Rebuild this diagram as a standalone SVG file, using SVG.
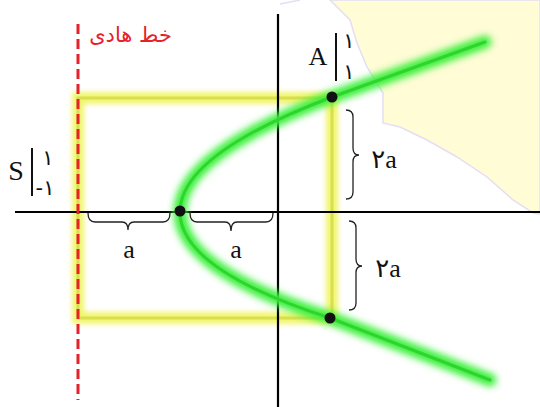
<svg xmlns="http://www.w3.org/2000/svg" width="540" height="407" viewBox="0 0 540 407">
<defs>
<filter id="blurG" x="-20%" y="-20%" width="140%" height="140%"><feGaussianBlur stdDeviation="3.5"/></filter>
<filter id="blurY" x="-10%" y="-10%" width="120%" height="120%"><feGaussianBlur stdDeviation="2.5"/></filter>
<style>
.axis{stroke:#000;stroke-width:2.2;fill:none}
.brace{stroke:#222;stroke-width:1.3;fill:none}
.lbl{font-family:"Liberation Serif","DejaVu Serif","DejaVu Sans",serif;font-size:26px;fill:#111}
.dig{font-family:"DejaVu Sans","Liberation Serif",serif;font-size:21px;fill:#111}
.dot{fill:#111}
</style>
</defs>
<rect width="540" height="407" fill="#fff"/>
<g id="background">
<path d="M330,0 L350,20 L357,43 L367,67 L383,93 L383,123 L400,127 L427,140 L457,157 L487,177 L513,200 L533,213 L540,214 L540,0 Z" fill="#fffcd6" stroke="#e4def6" stroke-width="1.5"/>
<path d="M280,4 L300,0" stroke="#e4def6" stroke-width="1.5" fill="none"/>
</g>
<g id="rectangle">
<path d="M78,98 H332 V318 H78 Z" fill="none" stroke="#eef34a" stroke-width="12" filter="url(#blurY)" opacity="0.8"/>
<path d="M78,98 H332 V318 H78 Z" fill="none" stroke="#dadf50" stroke-width="3"/>
</g>
<g id="axes">
<line class="axis" x1="15" y1="212" x2="540" y2="212"/>
<line class="axis" x1="278" y1="14" x2="278" y2="407"/>
</g>
<g id="parabola">
<path d="M485,42 L332,97 Q180,154.5 180,212 Q180,269.5 330,318 L490,380" fill="none" stroke="#3af03a" stroke-width="13" stroke-linecap="round" filter="url(#blurG)"/>
<path d="M485,42 L332,97 Q180,154.5 180,212 Q180,269.5 330,318 L490,380" fill="none" stroke="#2fd42f" stroke-width="3" stroke-linecap="round"/>
</g>
<g id="directrix">
<line x1="78" y1="24" x2="78" y2="400" stroke="#e8202a" stroke-width="3" stroke-dasharray="10,5"/>
<text x="172" y="42" text-anchor="end" font-family="DejaVu Sans, sans-serif" font-size="21" fill="#e8202a">خط هادی</text>
</g>
<g id="connectors">
<path class="brace" d="M88,213 Q88,222 95,222 H122 Q128,222 128,230 Q128,222 134,222 H163 Q170,222 170,213"/>
<path class="brace" d="M190,213 Q190,222 197,222 H225 Q231,222 231,231 Q231,222 237,222 H266 Q273,222 273,213"/>
<path class="brace" d="M346,110 Q353,110 353,117 V148 Q353,155 359,155 Q353,155 353,162 V192 Q353,199 346,199"/>
<path class="brace" d="M349,221 Q356,221 356,228 V259 Q356,266 362,266 Q356,266 356,273 V303 Q356,310 349,310"/>
</g>
<g id="labels">
<text class="lbl" x="129" y="258" text-anchor="middle">a</text>
<text class="lbl" x="236" y="258" text-anchor="middle">a</text>
<text class="lbl" x="384" y="168" text-anchor="middle">۲a</text>
<text class="lbl" x="388" y="277" text-anchor="middle">۲a</text>
</g>
<g id="pointA">
<circle class="dot" cx="332" cy="97" r="5.5"/>
<text class="lbl" x="318" y="65" text-anchor="middle" font-size="24">A</text>
<line x1="336" y1="33" x2="336" y2="81" stroke="#111" stroke-width="2"/>
<text class="dig" x="349" y="48" text-anchor="middle">۱</text>
<text class="dig" x="349" y="79" text-anchor="middle">۱</text>
</g>
<g id="pointS">
<text class="lbl" x="16" y="180" text-anchor="middle" style="font-size:28px">S</text>
<line x1="32" y1="148" x2="32" y2="196" stroke="#111" stroke-width="2"/>
<text class="dig" x="48" y="165" text-anchor="middle">۱</text>
<text class="dig" x="45" y="195" text-anchor="middle">-۱</text>
</g>
<g id="vertex">
<circle class="dot" cx="180" cy="211" r="5.5"/>
</g>
<g id="pointB">
<circle class="dot" cx="330" cy="318" r="5.5"/>
</g>
</svg>
